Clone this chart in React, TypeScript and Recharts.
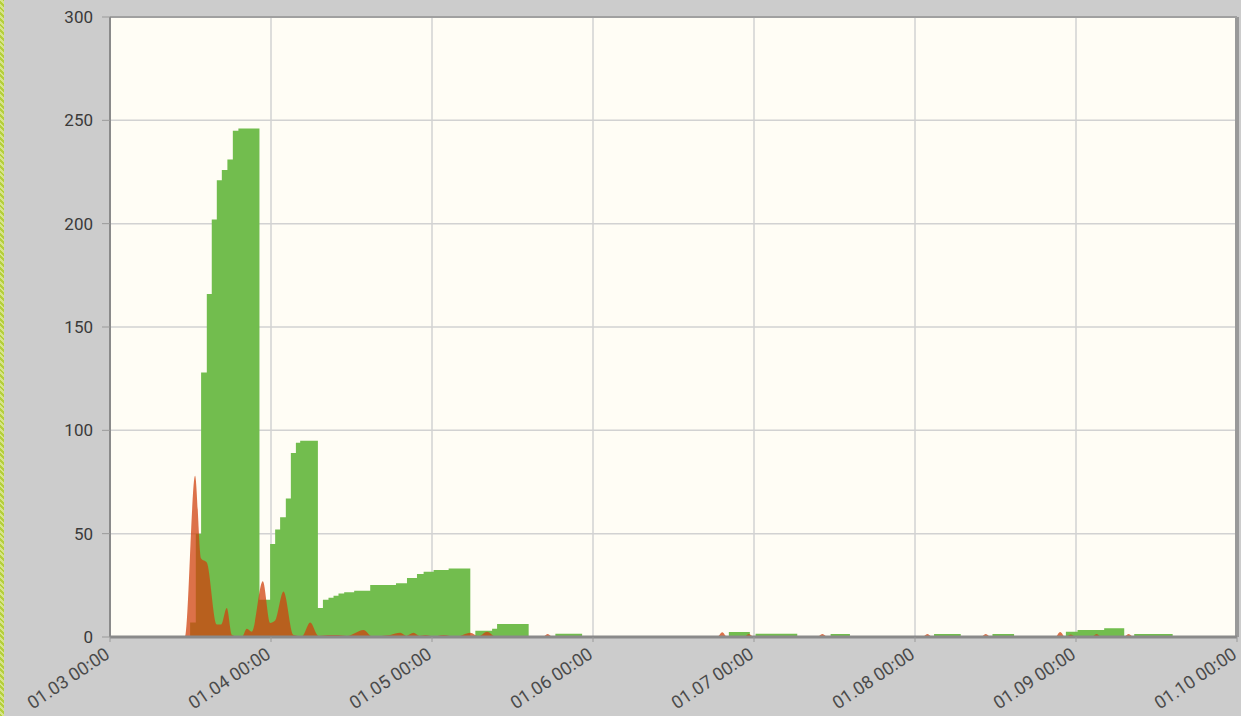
import { Area, CartesianGrid, ComposedChart, ReferenceLine, XAxis, YAxis } from "recharts";

// hours since 01.03 00:00
const dayTicks = [0, 24, 48, 72, 96, 120, 144, 168];
const dayLabels = [
  "01.03 00:00",
  "01.04 00:00",
  "01.05 00:00",
  "01.06 00:00",
  "01.07 00:00",
  "01.08 00:00",
  "01.09 00:00",
  "01.10 00:00",
];
const valueTicks = [0, 50, 100, 150, 200, 250, 300];

// green series (step)
const greenHours = [
  0, 11.94, 12.79, 13.58, 14.43, 15.17, 15.92, 16.67, 17.5, 18.31, 19.14, 22.28, 23.87, 24.62,
  25.36, 26.21, 26.96, 27.71, 28.35, 30.99, 31.74, 32.57, 33.32, 34.06, 34.91, 36.4, 38.79,
  42.63, 44.27, 45.76, 46.75, 48.24, 50.48, 53.71, 54.46, 56.96, 57.7, 62.41, 66.39, 70.38,
  92.25, 95.38, 96.23, 102.45, 107.42, 110.3, 122.84, 126.82, 131.55, 134.77, 142.49, 144.23,
  148.2, 151.19, 152.68, 158.41, 168,
];
const greenValues = [
  0, 7, 50, 128, 166, 202, 221, 226, 231, 245, 246, 18, 45, 52, 58, 67, 89, 94, 95, 14, 18, 19,
  20, 21, 21.6, 22.4, 25.2, 26, 28.5, 30.5, 31.6, 32.4, 33.2, 0, 3, 4, 6.3, 0, 1.6, 0, 2.4, 0,
  1.6, 0, 1.5, 0, 1.5, 0, 1.5, 0, 2.6, 3.4, 4.2, 0, 1.5, 0, 0,
];

// orange series (smooth)
const orangeHours = [
  0, 11.19, 12.68, 13.58, 14.43, 15.92, 16.56, 17.41, 18.16, 19.65, 20.4, 21.14, 22.78, 23.87,
  24.62, 25.86, 27.35, 28.6, 29.84, 31.08, 32.53, 34.02, 35.32, 37.79, 39.09, 41.78, 43.27,
  44.16, 45.25, 46.1, 47.0, 48.3, 49.68, 51.62, 53.71, 54.9, 56.2, 57.59, 64.5, 65.24, 66.0,
  90.5, 91.27, 92.0, 94.5, 95.24, 96.0, 105.4, 106.19, 107.0, 121.1, 121.85, 122.6, 129.8,
  130.55, 131.3, 140.9, 141.64, 142.4, 143.23, 144.0, 146.3, 147.07, 147.8, 151.1, 151.84,
  152.6, 168,
];
const orangeValues = [
  0, 0, 78, 38, 36, 6, 6, 14, 1, 0, 4, 2.6, 27, 6.8, 8, 22, 1, 0.3, 7, 0.5, 1, 1, 0.5, 3.4, 0.3,
  1, 2, 0.5, 2, 0.5, 1, 0.3, 1, 0, 2, 0.3, 2.6, 0, 0, 1.5, 0, 0, 2.3, 0, 0, 1.5, 0, 0, 1.5, 0,
  0, 1.5, 0, 0, 1.5, 0, 0, 2.4, 0, 1.2, 0, 0, 1.5, 0, 0, 1.5, 0, 0,
];

type Row = { t: number; green?: number; orange?: number };

function buildRows(): Row[] {
  const map = new Map<number, Row>();
  greenHours.forEach((t, i) => {
    const r = map.get(t) ?? { t };
    r.green = greenValues[i];
    map.set(t, r);
  });
  orangeHours.forEach((t, i) => {
    const r = map.get(t) ?? { t };
    r.orange = orangeValues[i];
    map.set(t, r);
  });
  return Array.from(map.values()).sort((a, b) => a.t - b.t);
}

const rows = buildRows();

const DayTick = (props: any) => {
  const { x, y, payload } = props;
  const idx = dayTicks.indexOf(payload.value);
  const tx = x + 1;
  const ty = y + 13;
  return (
    <text
      x={tx}
      y={ty}
      transform={`rotate(-34 ${tx} ${ty})`}
      textAnchor="end"
      fill="#4a4a4a"
      fontSize={18}
      fontFamily="Roboto, sans-serif"
    >
      {dayLabels[idx]}
    </text>
  );
};

export default function App() {
  return (
    <div
      style={{
        position: "absolute",
        left: 0,
        top: 0,
        width: 1241,
        height: 716,
        background: "#cccccc",
        overflow: "hidden",
      }}
    >
      {/* hatched strip on the left edge */}
      <div
        style={{
          position: "absolute",
          left: 0,
          top: 0,
          width: 4,
          height: 716,
          background: "repeating-linear-gradient(45deg, #b5cf3c 0 2px, #d6e48a 2px 4px)",
        }}
      />
      <ComposedChart
        width={1241}
        height={716}
        data={rows}
        margin={{ top: 17, right: 4, bottom: 0, left: 0 }}
      >
        <CartesianGrid stroke="#d2d2d2" strokeWidth={1.5} fill="#fffdf5" />
        <XAxis
          dataKey="t"
          type="number"
          domain={[0, 168]}
          ticks={dayTicks}
          interval={0}
          height={79}
          tick={<DayTick />}
          tickSize={5}
          tickLine={{ stroke: "#9a9a9a" }}
          axisLine={{ stroke: "#8a8a8a", strokeWidth: 3 }}
          allowDataOverflow
        />
        <YAxis
          type="number"
          domain={[0, 300]}
          ticks={valueTicks}
          interval={0}
          width={110}
          tickSize={8}
          tickMargin={9}
          tickLine={{ stroke: "#9a9a9a" }}
          axisLine={{ stroke: "#8a8a8a", strokeWidth: 2 }}
          tick={{ fill: "#3a3a3a", fontSize: 17, fontFamily: "Roboto, sans-serif" }}
        />
        <Area
          type="stepAfter"
          dataKey="green"
          stroke="none"
          fill="#72bd4e"
          fillOpacity={1}
          connectNulls
          isAnimationActive={false}
        />
        <Area
          type="monotone"
          dataKey="orange"
          stroke="none"
          fill="#d0420f"
          fillOpacity={0.75}
          connectNulls
          isAnimationActive={false}
        />
        <ReferenceLine x={168} stroke="#999999" strokeWidth={4} />
        <ReferenceLine y={300} stroke="#a0a0a0" strokeWidth={2} />
      </ComposedChart>
    </div>
  );
}
